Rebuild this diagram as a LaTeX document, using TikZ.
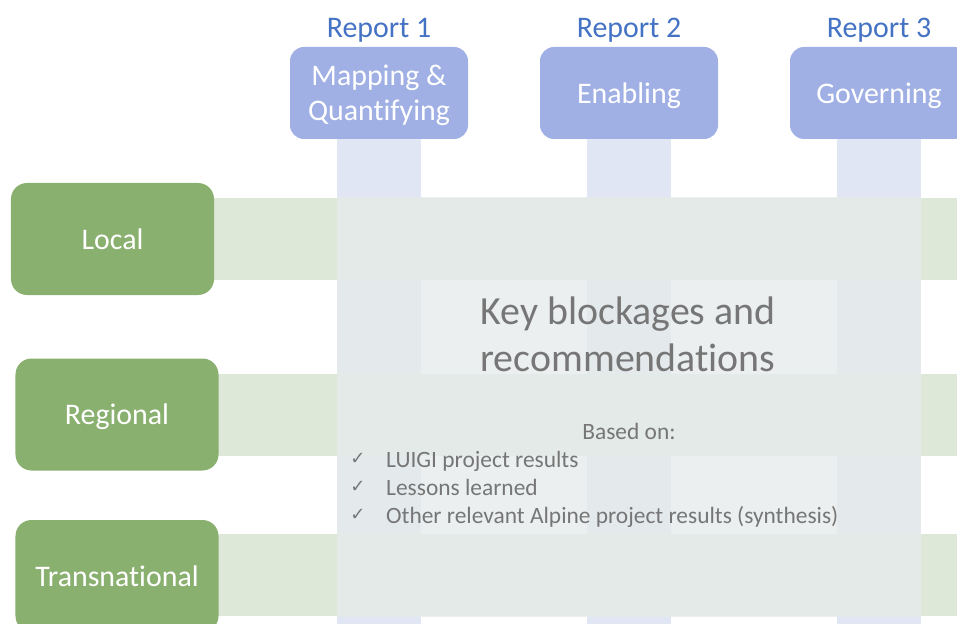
\documentclass[tikz,border=0pt]{standalone}
\usepackage{fontspec}
\setmainfont{Carlito}[Ligatures=NoCommon]
\newfontfamily\tickfont{DejaVu Sans}
\usetikzlibrary{positioning}

\definecolor{reportblue}{RGB}{68,114,196}
\definecolor{boxblue}{RGB}{160,176,228}
\definecolor{barblue}{RGB}{224,230,244}
\definecolor{boxgreen}{RGB}{138,176,112}
\definecolor{bargreen}{RGB}{222,232,216}
\definecolor{veil}{RGB}{230,235,235}
\definecolor{textgray}{RGB}{118,118,118}

\begin{document}
\begin{tikzpicture}[x=1bp,y=-1bp,
    report/.style={text=reportblue,font=\fontsize{30}{34}\selectfont},
    theme/.style={fill=boxblue,rounded corners=14bp,minimum width=178bp,minimum height=92bp,
      inner sep=0,text depth=0pt,text=white,align=center,font=\fontsize{30}{35}\selectfont},
    level/.style={fill=boxgreen,rounded corners=16bp,minimum width=203bp,minimum height=112bp,
      inner sep=0,text depth=0pt,text=white,font=\fontsize{30}{34}\selectfont},
    headline/.style={text=textgray,align=center,font=\fontsize{40}{47}\selectfont},
    basis/.style={text=textgray,font=\fontsize{23.5}{26}\selectfont},
    tick/.style={text=textgray,inner sep=0,font=\tickfont\fontsize{18}{20}\selectfont}]
    \useasboundingbox (0,0) rectangle (957,624);
    \clip (0,0) rectangle (957,624);

    % columns
    \foreach \x in {379,629,879}
        \fill[barblue] (\x-42,139) rectangle (\x+42,624);
    % rows
    \foreach \y in {198,374,534}
        \fill[bargreen] (214,\y) rectangle (957,\y+82);

    \node[theme] (mapping) at (379,93) {Mapping \&\\Quantifying};
    \node[theme] (enabling) at (629,93) {Enabling};
    \node[theme] (governing) at (879,93) {Governing};
    \node[report] (rep1) at (379,30) {Report 1};
    \node[report] (rep2) at (629,30) {Report 2};
    \node[report] (rep3) at (879,30) {Report 3};

    \node[level] (local) at (112.5,239) {Local};
    \node[level] (regional) at (117,414.5) {Regional};
    \node[level] (transnational) at (117,576) {Transnational};

    % translucent panel over the grid
    \fill[veil,opacity=0.82] (337,197) rectangle (921,617);

    \node[headline] (key) at (628,334) {Key blockages and\\recommendations};
    \node[basis] (based) at (629,431) {Based on:};
    \foreach \t [count=\i] in {{LUIGI project results},{Lessons learned},
        {Other relevant Alpine project results (synthesis)}} {
        \node[tick] (tick\i) at (358,431+28*\i) {✓};
        \node[basis,anchor=base west,inner sep=0] (item\i) at (386,439+28*\i) {\t};
    }
\end{tikzpicture}
\end{document}
